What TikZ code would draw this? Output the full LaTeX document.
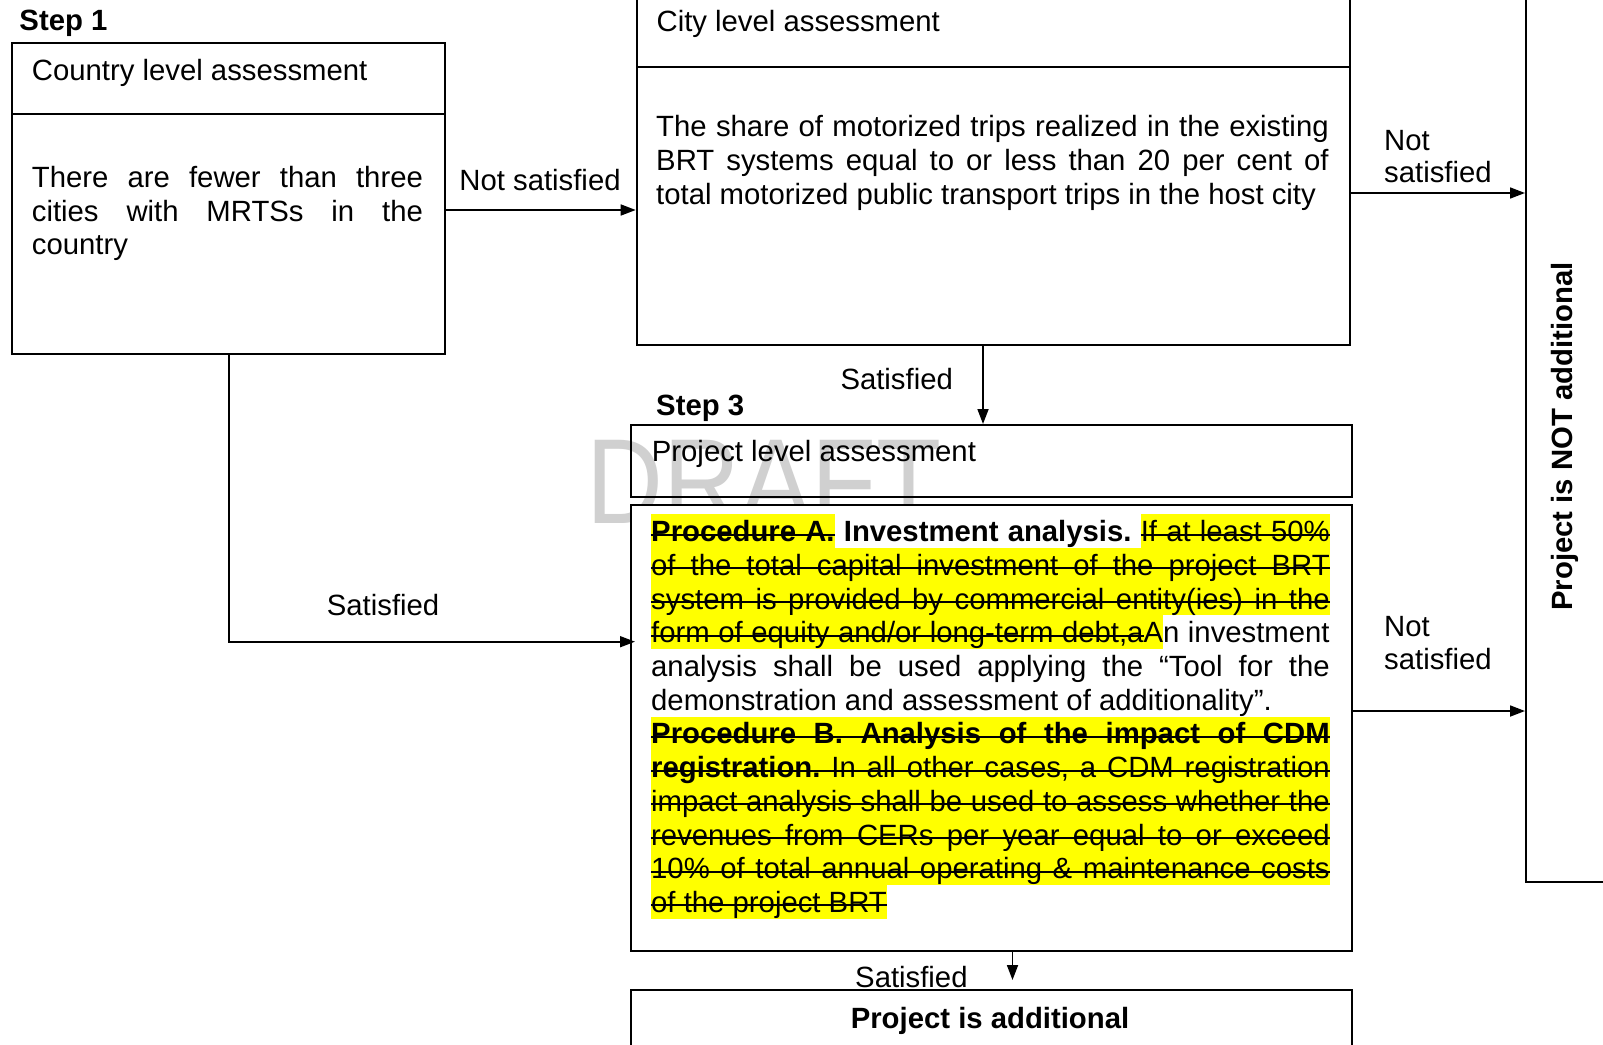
\documentclass[tikz,border=0pt]{standalone}
\usepackage{fontspec}
\usepackage{graphicx}
\setmainfont{Liberation Sans}
\usetikzlibrary{arrows.meta,calc}
\definecolor{hly}{RGB}{255,255,0}
\definecolor{draftgray}{RGB}{208,208,208}
\newcount\lmode
\newdimen\spw \spw=8.15pt
\newdimen\hlH \hlH=27.4pt
\newdimen\hlD \hlD=6.3pt
\newdimen\stT \stT=8pt
\newdimen\stB \stB=6pt
\newcommand\fsz{\fontsize{29.3pt}{33.7pt}\selectfont}
% word segments
\newcommand\Sw[1]{\ifcase\lmode\hphantom{#1}\or#1\or\hphantom{#1}\fi}
\newcommand\Sbw[1]{\Sw{{\bfseries#1}}}
\newcommand\HSw[1]{\ifcase\lmode\setbox0\hbox{#1}{\color{hly}\vrule height\hlH depth\hlD width\wd0}\or#1\or\setbox0\hbox{#1}\vrule height\stT depth-\stB width\wd0\relax\fi}
\newcommand\HSbw[1]{\HSw{{\bfseries#1}}}
\newcommand\Hlw[1]{\ifcase\lmode\setbox0\hbox{#1}{\color{hly}\vrule height\hlH depth\hlD width\wd0}\or#1\or\hphantom{#1}\fi}
% glue
\newcommand\gP{\hskip\spw plus 1fill\relax}
\newcommand\gH{\ifcase\lmode{\color{hly}\leaders\hrule height\hlH depth\hlD\hskip\spw plus 1fill\relax}\or\hskip\spw plus 1fill\relax\or\leaders\hrule height\stT depth-\stB\hskip\spw plus 1fill\relax\fi}
\newcommand\eol{\hskip 0pt plus 1filll\relax}
% word sequences
\def\Seq#1#2#3{\SeqI#1#2#3 \relax}
\def\SeqI#1#2#3 #4\relax{#1{#3}\if\relax\detokenize{#4}\relax\else#2\SeqI#1#2#4\relax\fi}
% one justified line, drawn in three layers
\newcommand\Line[2]{\hbox{\rlap{\lmode=0 \hbox to #1{#2}}\rlap{\lmode=1 \hbox to #1{#2}}\lmode=2 \hbox to #1{#2}}}

\tikzset{
  box/.style={draw, line width=2pt, inner sep=0pt, anchor=north west},
  txt/.style={anchor=base west, inner sep=0pt, font=\fsz},
  arr/.style={line width=1.7pt, -{Triangle[length=15pt,width=11pt]}}
}
\begin{document}
\begin{tikzpicture}[x=1pt,y=-1pt]
\useasboundingbox (0,0) rectangle (1603,1044);
\fill[white] (0,0) rectangle (1603,1044);
% watermark
\node[anchor=base west, inner sep=0pt, text=draftgray] (draft) at (586.6,523)
  {\scalebox{0.88}[1]{\fontsize{121pt}{121pt}\selectfont DRAFT}};
% boxes
\node[box, minimum width=433.1pt, minimum height=71.6pt] (countryhead) at (11.2,41.7) {};
\node[box, minimum width=433.1pt, minimum height=240pt] (countrybody) at (11.2,113.3) {};
\node[box, minimum width=713.6pt, minimum height=75.7pt] (cityhead) at (635.7,-10) {};
\node[box, minimum width=713.6pt, minimum height=278.3pt] (citybody) at (635.7,65.7) {};
\node[box, minimum width=720.5pt, minimum height=72pt] (projhead) at (630,424) {};
\node[box, fill=white, minimum width=720.5pt, minimum height=446pt] (procbody) at (630,504) {};
\node[box, minimum width=720.5pt, minimum height=80pt] (addbox) at (630,989.3) {};
\node[box, minimum width=100pt, minimum height=890.5pt] (notadd) at (1525,-10) {};
% step labels and titles
\node[txt, font=\fsz\bfseries] (step1) at (19.3,30.7) {Step 1};
\node[txt] (countrytitle) at (31.7,80) {Country level assessment};
\node[txt] (c1) at (31.7,187.3) {\Line{391pt}{\Seq\Sw\gP{There are fewer than three}}};
\node[txt] (c2) at (31.7,221) {\Line{391pt}{\Seq\Sw\gP{cities with MRTSs in the}}};
\node[txt] (c3) at (31.7,254.7) {\Line{391pt}{\Sw{country}\eol}};
\node[txt] (citytitle) at (656.4,31.7) {City level assessment};
\node[txt] (t1) at (656,136.7) {\Line{672.5pt}{\Seq\Sw\gP{The share of motorized trips realized in the existing}}};
\node[txt] (t2) at (656,170.4) {\Line{672.5pt}{\Seq\Sw\gP{BRT systems equal to or less than 20 per cent of}}};
\node[txt] (t3) at (656,204.1) {\Line{672.5pt}{\Seq\Sw\gP{total motorized public transport trips in the host city}\eol}};
\node[txt, font=\fsz\bfseries] (step3) at (656,415) {Step 3};
\node[txt] (projtitle) at (651.7,461.7) {Project level assessment};
% procedure text
\node[txt] (p1) at (651,541.7) {\Line{678.5pt}{\HSbw{Procedure}\gH\HSbw{A.}\gP\Sbw{Investment}\gP\Sbw{analysis.}\gP\Seq\HSw\gH{If at least 50\%}}};
\node[txt] (p2) at (651,575.4) {\Line{678.5pt}{\Seq\HSw\gH{of the total capital investment of the project BRT}}};
\node[txt] (p3) at (651,609.1) {\Line{678.5pt}{\Seq\HSw\gH{system is provided by commercial entity(ies) in the}}};
\node[txt] (p4) at (651,642.8) {\Line{678.5pt}{\Seq\HSw\gH{form of equity and/or long-term debt,a}\Hlw{A}\Sw{n}\gP\Sw{investment}}};
\node[txt] (p5) at (651,676.5) {\Line{678.5pt}{\Seq\Sw\gP{analysis shall be used applying the “Tool for the}}};
\node[txt] (p6) at (651,710.2) {\Line{678.5pt}{\Seq\Sw\gP{demonstration and assessment of additionality”.}\eol}};
\node[txt] (p7) at (651,743.9) {\Line{678.5pt}{\Seq\HSbw\gH{Procedure B. Analysis of the impact of CDM}}};
\node[txt] (p8) at (651,777.6) {\Line{678.5pt}{\HSbw{registration.}\gH\Seq\HSw\gH{In all other cases, a CDM registration}}};
\node[txt] (p9) at (651,811.3) {\Line{678.5pt}{\Seq\HSw\gH{impact analysis shall be used to assess whether the}}};
\node[txt] (p10) at (651,845.0) {\Line{678.5pt}{\Seq\HSw\gH{revenues from CERs per year equal to or exceed}}};
\node[txt] (p11) at (651,878.7) {\Line{678.5pt}{\Seq\HSw\gH{10\% of total annual operating \& maintenance costs}}};
\node[txt] (p12) at (651,912.4) {\Line{678.5pt}{\Seq\HSw\gH{of the project BRT}\eol}};
% result texts
\node[anchor=base, inner sep=0pt, font=\fsz\bfseries] (addtext) at (990,1028.3) {Project is additional};
\node[anchor=base, inner sep=0pt, font=\fsz\bfseries, rotate=90] (notaddtext) at (1572,436.5) {Project is NOT additional};
% connector labels
\node[txt] (lns1) at (459.2,190) {Not satisfied};
\node[txt] (lns2a) at (1384,150) {Not};
\node[txt] (lns2b) at (1384,182.5) {satisfied};
\node[txt] (lns3a) at (1384,636.7) {Not};
\node[txt] (lns3b) at (1384,669.5) {satisfied};
\node[txt] (ls1) at (840.3,389) {Satisfied};
\node[txt] (ls2) at (326.7,615) {Satisfied};
\node[txt] (ls3) at (855,987.3) {Satisfied};
% connectors
\draw[arr] (countrybody.east |- 0,210) -- (citybody.west |- 0,210);
\draw[arr, shorten >=-5pt] (countrybody.south) |- (procbody.west |- 0,641.7);
\draw[arr] (citybody.south -| 983,0) -- (projhead.north -| 983,0);
\draw[arr] (citybody.east |- 0,193) -- (notadd.west |- 0,193);
\draw[arr] (procbody.east |- 0,711) -- (notadd.west |- 0,711);
\coordinate (satend) at (1012.5,980);
\draw[arr] (procbody.south -| satend) -- (satend);
\end{tikzpicture}
\end{document}
